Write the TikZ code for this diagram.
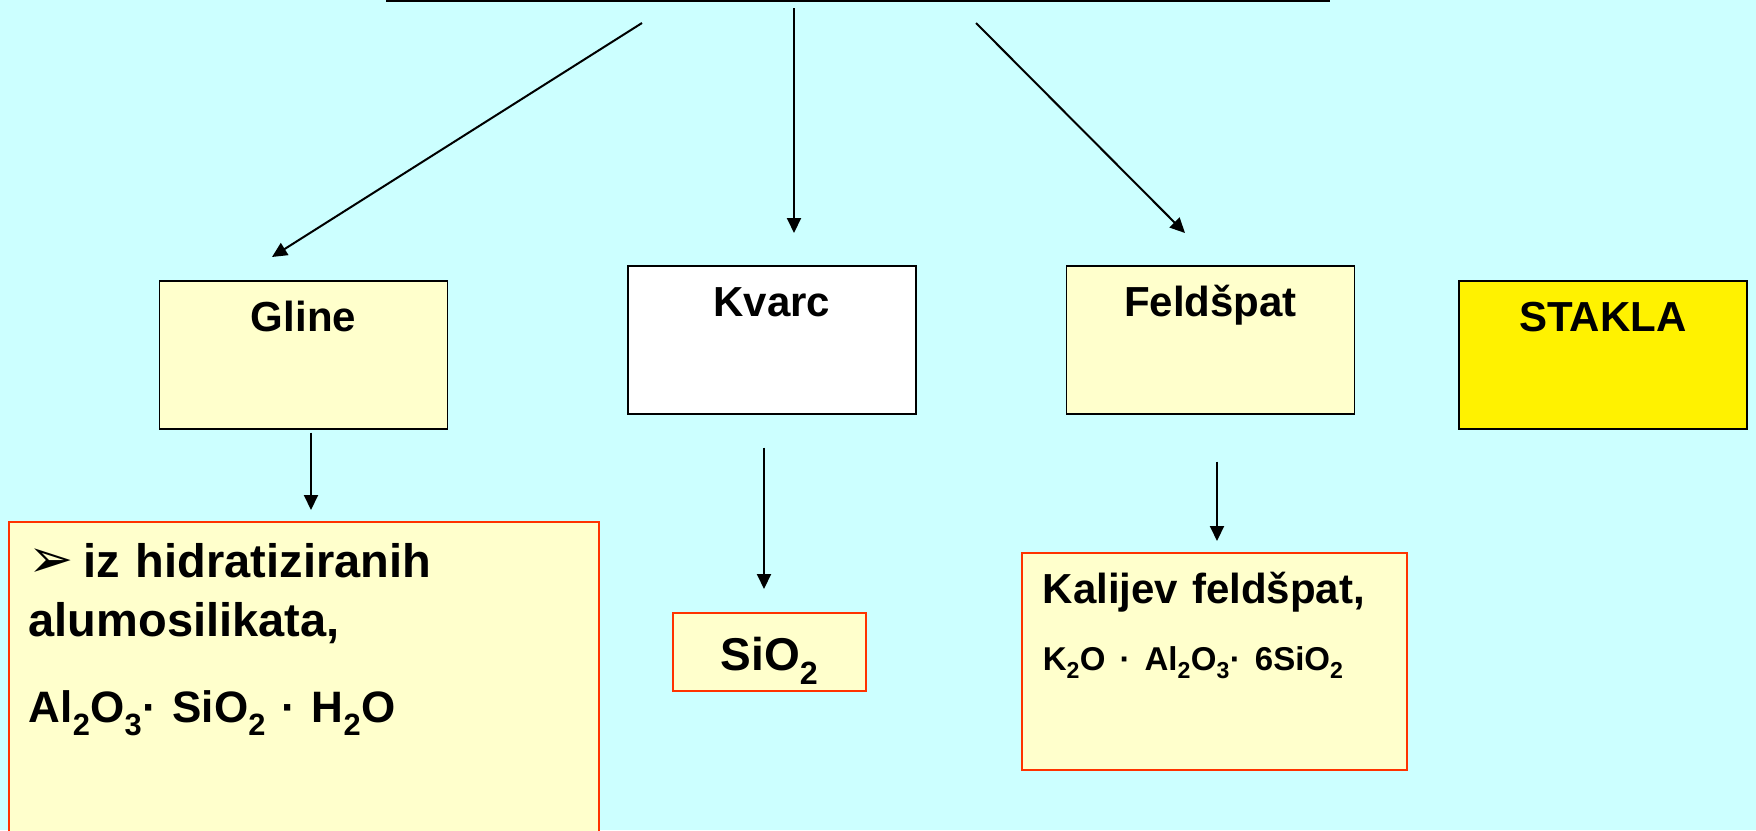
\documentclass[tikz,border=0pt]{standalone}
\usepackage{fontspec}
\setmainfont{Liberation Sans}
\newfontfamily\dingfont{DejaVu Sans}
\usetikzlibrary{arrows.meta}
\definecolor{sky}{HTML}{CCFFFF}
\definecolor{cream}{HTML}{FFFFCC}
\definecolor{brick}{HTML}{FF3300}
\tikzstyle{box} = [draw=black, line width=1.5pt, rectangle, inner sep=0pt, font={\fontsize{42}{50}\selectfont\bfseries}]
\tikzstyle{mineral} = [box, fill=cream, minimum width=288pt, text height=51pt, text depth=97pt, anchor=north]
\tikzstyle{formula} = [box, draw=brick, fill=cream]
\tikzstyle{arr} = [line width=2pt, -{Triangle[width=14pt,length=15pt]}]

\begin{document}
\begin{tikzpicture}[x=1pt,y=-1pt]
        \fill[sky] (0,0) rectangle (1756,830);
        \clip (0,0) rectangle (1756,830);
        % top row
        \node[mineral](gline) at (303.5,280){Gline};
        \node[mineral,fill=white](kvarc) at (772,265){Kvarc};
        \node[mineral](feldspat) at (1210.5,265){Feldšpat};
        \node[mineral,fill=yellow](stakla) at (1603,280){STAKLA};
        % what they are made of
        \node[formula,anchor=north west,text width=550pt,align=left,inner xsep=20pt,text height=56pt,text depth=290pt,font={\fontsize{47}{59}\selectfont\bfseries}](glinef) at (8,521){{\dingfont\fontsize{54}{59}\selectfont ➢}\kern-6pt{} iz hidratiziranih\\alumosilikata,\\[27pt]{\fontsize{44}{50}\selectfont Al\textsubscript{2}O\textsubscript{3}· SiO\textsubscript{2} · H\textsubscript{2}O}};
        \node[formula,anchor=north,minimum width=193pt,text height=58pt,text depth=20pt,font={\fontsize{46}{55}\selectfont\bfseries}](kvarcf) at (769.5,612){SiO\textsubscript{2}};
        \node[formula,anchor=north west,text width=343pt,align=left,inner xsep=21pt,text height=51pt,text depth=166pt](feldspatf) at (1021,552){Kalijev feldšpat,\\[17pt]{\fontsize{33}{38}\selectfont K\textsubscript{2}O · Al\textsubscript{2}O\textsubscript{3}· 6SiO\textsubscript{2}}};
        % rule and arrows from above
        \coordinate(rule-l) at (386,1);
        \coordinate(rule-r) at (1330,1);
        \draw[line width=2pt](rule-l)--(rule-r);
        \coordinate(top-l) at (642,23);
        \coordinate(top-m) at (794,8);
        \coordinate(top-r) at (976,23);
        \coordinate(gline-in) at (272,257);
        \coordinate(kvarc-in) at (794,233);
        \coordinate(feldspat-in) at (1185,233);
        \draw[arr](top-l)--(gline-in);
        \draw[arr](top-m)--(kvarc-in);
        \draw[arr](top-r)--(feldspat-in);
        \draw[arr,shorten <=3pt,shorten >=11pt]([xshift=7.5pt]gline.south)--([xshift=7.5pt]gline.south |- glinef.north);
        \draw[arr,shorten <=33pt,shorten >=23pt]([xshift=-8pt]kvarc.south)--([xshift=-8pt]kvarc.south |- kvarcf.north);
        \draw[arr,shorten <=47pt,shorten >=11pt]([xshift=6.5pt]feldspat.south)--([xshift=6.5pt]feldspat.south |- feldspatf.north);
      \end{tikzpicture}
\end{document}
